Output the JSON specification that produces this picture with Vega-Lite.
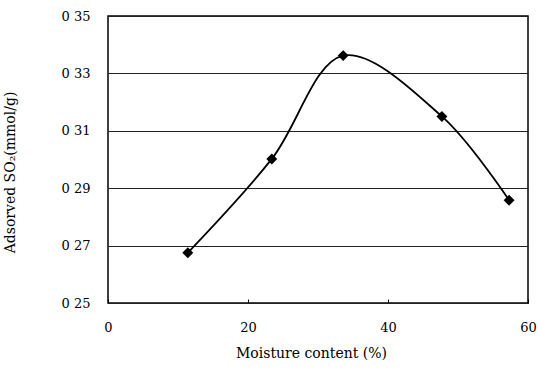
{
  "$schema": "https://vega.github.io/schema/vega-lite/v6.json",
  "width": 420,
  "height": 287,
  "autosize": {"type": "none"},
  "padding": {"left": 108, "top": 16, "right": 10, "bottom": 68},
  "background": "white",
  "config": {
    "font": "DejaVu Serif",
    "view": {"stroke": "black", "strokeWidth": 1.5},
    "axis": {"labelFont": "DejaVu Serif", "titleFont": "DejaVu Serif", "labelColor": "black", "titleColor": "black", "titleFontWeight": "normal"}
  },
  "data": {
    "values": [
      {"moisture": 11.4, "so2": 0.2675},
      {"moisture": 23.4, "so2": 0.3002},
      {"moisture": 33.6, "so2": 0.3362},
      {"moisture": 47.7, "so2": 0.3150},
      {"moisture": 57.3, "so2": 0.2858}
    ]
  },
  "encoding": {
    "x": {
      "field": "moisture",
      "type": "quantitative",
      "scale": {"domain": [0, 60], "nice": false},
      "axis": {
        "title": "Moisture content (%)",
        "values": [0, 20, 40, 60],
        "grid": false,
        "domain": false,
        "tickSize": -4,
        "tickColor": "black",
        "labelFlush": false,
        "labelPadding": 22,
        "labelFontSize": 13,
        "titleFontSize": 14,
        "titleX": 203,
        "titleY": 50,
        "titleBaseline": "middle"
      }
    },
    "y": {
      "field": "so2",
      "type": "quantitative",
      "scale": {"domain": [0.25, 0.35], "nice": false},
      "axis": {
        "title": "Adsorved SO₂(mmol/g)",
        "values": [0.25, 0.27, 0.29, 0.31, 0.33, 0.35],
        "labelExpr": "replace(format(datum.value, '.2f'), '.', ' ')",
        "grid": true,
        "gridColor": "#222",
        "gridWidth": 1,
        "domain": false,
        "ticks": false,
        "labelFlush": false,
        "labelPadding": 18,
        "labelFontSize": 13,
        "titleFontSize": 14,
        "titleX": -98,
        "titleY": 156,
        "titleAngle": -90,
        "titleBaseline": "middle"
      }
    }
  },
  "layer": [
    {
      "mark": {"type": "line", "interpolate": "catmull-rom", "color": "black", "strokeWidth": 1.8}
    },
    {
      "mark": {"type": "point", "shape": "diamond", "filled": true, "color": "black", "size": 120, "opacity": 1}
    }
  ]
}
